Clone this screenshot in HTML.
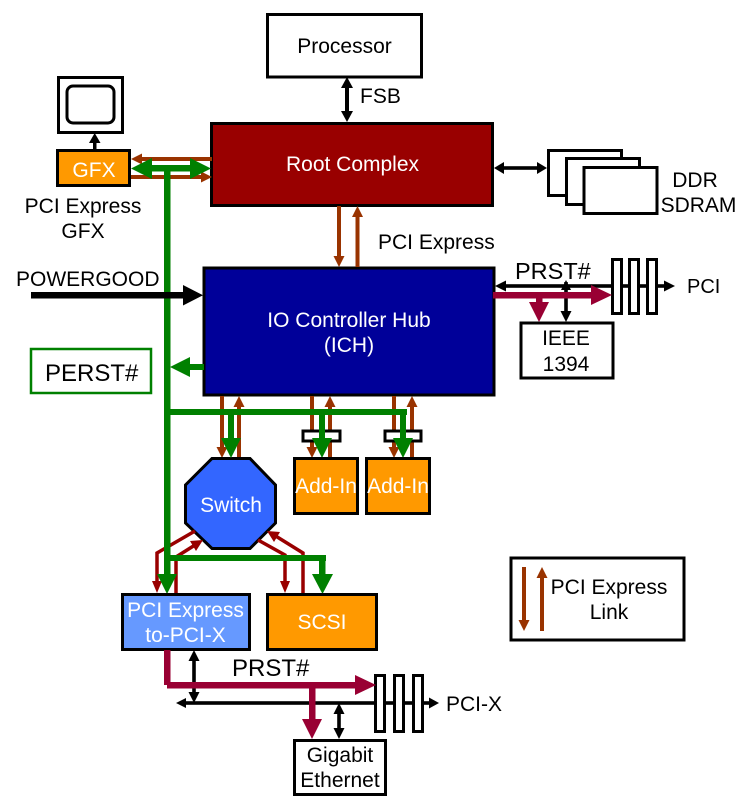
<!DOCTYPE html>
<html><head><meta charset="utf-8"><style>
html,body{margin:0;padding:0;background:#fff;width:749px;height:804px;overflow:hidden}
svg{display:block}
text{font-family:"Liberation Sans",Arial,sans-serif;font-size:21px;fill:#000}
.c{text-anchor:middle}
.w{fill:#fff}
.box{stroke:#000;stroke-width:3;fill:#fff}
</style></head><body>
<svg width="749" height="804" viewBox="0 0 749 804" xmlns="http://www.w3.org/2000/svg">
<!-- Boxes -->
<rect class="box" x="267.500" y="14.500" width="154" height="62.500"/>
<rect class="box" x="58.500" y="77.500" width="64" height="55"/>
<rect x="67" y="86" width="47" height="37" rx="6" fill="#fff" stroke="#000" stroke-width="3"/>
<rect x="211.500" y="123.500" width="281" height="82" fill="#990000" stroke="#000" stroke-width="3"/>
<rect x="204" y="268" width="290" height="127" fill="#000099" stroke="#000" stroke-width="3"/>
<rect class="box" x="548.500" y="150.500" width="73" height="45"/>
<rect class="box" x="566.500" y="158.500" width="73" height="46"/>
<rect class="box" x="584" y="167.500" width="73" height="46"/>
<rect class="box" x="521" y="323" width="92" height="55"/>
<rect x="31" y="349" width="120" height="44" fill="#fff" stroke="#008000" stroke-width="2.500"/>
<rect class="box" x="511" y="558" width="173" height="82"/>

<!-- FSB + monitor arrows -->
<g fill="#000" stroke="none">
<rect x="345" y="84" width="4" height="32"/><polygon points="347,77 341,88 353,88"/><polygon points="347,122 341,111 353,111"/>
<rect x="93" y="140" width="3.500" height="10"/><polygon points="94.700,133 89,143 100.500,143"/>
<rect x="500" y="166.200" width="42" height="3.600"/><polygon points="494,168 504,162 504,174"/><polygon points="547,168 537,162 537,174"/>
</g>

<!-- Brown links -->
<g fill="#993300" stroke="none">
<rect x="140" y="157" width="72" height="4"/><polygon points="131,159 142,153.500 142,164.500"/>
<rect x="131" y="175" width="72" height="4"/><polygon points="212,177 201,171.500 201,182.500"/>
<rect x="337" y="206" width="4" height="52"/><polygon points="339,267 333.500,256 344.500,256"/>
<rect x="355.500" y="215" width="4" height="52"/><polygon points="357.500,206 352,217 363,217"/>
<rect x="220" y="396" width="4" height="52"/><polygon points="222,458 216.500,447 227.500,447"/>
<rect x="237" y="406" width="4" height="52"/><polygon points="239,396 233.500,407 244.500,407"/>
<rect x="310" y="396" width="4" height="52"/><polygon points="312,458 306.500,447 317.500,447"/>
<rect x="328" y="406" width="4" height="52"/><polygon points="330,396 324.500,407 335.500,407"/>
<rect x="392" y="396" width="4" height="52"/><polygon points="394,458 388.500,447 399.500,447"/>
<rect x="410" y="406" width="4" height="52"/><polygon points="412,396 406.500,407 417.500,407"/>
<rect x="522" y="567" width="4" height="54"/><polygon points="524,631 518.500,620 529.500,620"/>
<rect x="540" y="577" width="4" height="54"/><polygon points="542,567 536.500,578 547.500,578"/>
</g>

<!-- Adapter slots -->
<rect x="303" y="431" width="37" height="10" fill="#fff" stroke="#000" stroke-width="3"/>
<rect x="385" y="431" width="36" height="10" fill="#fff" stroke="#000" stroke-width="3"/>

<!-- Octagon -->
<polygon points="212,458.500 250,458.500 275.500,485 275.500,523 250,548.500 212,548.500 185.500,523 185.500,485" fill="#3366ff" stroke="#000" stroke-width="3"/>

<!-- Dark red switch links -->
<g fill="none" stroke="#990000" stroke-width="3.500">
<polyline points="195,531 157,553 157,584"/>
<polyline points="176,593 176,557 195,545"/>
<polyline points="258,540 285,555 285,584"/>
<polyline points="303,593 303,553 274,535"/>
</g>
<g fill="#990000">
<polygon points="157,593 152,581 162,581"/>
<polygon points="285,593 280,581 290,581"/>
<polygon points="203,540 190,541 196,551"/>
<polygon points="267,531 280,532 274,542"/>
</g>

<!-- Green -->
<g fill="#008000" stroke="none">
<rect x="164" y="168" width="6.500" height="408"/>
<rect x="150" y="165" width="42" height="6.500"/>
<polygon points="131,168.500 152,158 152,179"/>
<polygon points="211,168.500 190,158 190,179"/>
<rect x="167" y="409" width="240" height="6"/>
<rect x="228" y="412" width="6" height="28"/><polygon points="231,458 221,438 241,438"/>
<rect x="319" y="412" width="6" height="28"/><polygon points="322,458 312,438 332,438"/>
<rect x="400" y="412" width="6" height="28"/><polygon points="403,458 393,438 413,438"/>
<rect x="167" y="555" width="159" height="6"/>
<rect x="319" y="558" width="6.500" height="18"/><polygon points="322.500,594 312,574 333,574"/>
<polygon points="167,594 157,574 177,574"/>
<rect x="188" y="364" width="16" height="6"/><polygon points="170,367 190,357 190,377"/>
</g>

<!-- Lower boxes -->
<rect x="122.500" y="594.500" width="127" height="55" fill="#6699ff" stroke="#000" stroke-width="3"/>
<rect x="267.500" y="594.500" width="109" height="55" fill="#ff9900" stroke="#000" stroke-width="3"/>
<rect x="294.500" y="458.500" width="63" height="55" fill="#ff9900" stroke="#000" stroke-width="3" />
<rect x="366.500" y="458.500" width="63" height="55" fill="#ff9900" stroke="#000" stroke-width="3"/>
<rect class="box" x="294.500" y="740.500" width="91" height="54"/>
<rect x="57.500" y="150.500" width="72" height="35" fill="#ff9900" stroke="#000" stroke-width="3"/>

<!-- POWERGOOD -->
<g fill="#000">
<rect x="31" y="292" width="154" height="6.500"/><polygon points="203,295.200 183,285 183,305.500"/>
</g>

<!-- PCI bus -->
<g fill="#000">
<rect x="503" y="284.200" width="108" height="3.600"/><polygon points="495,286 506,280.500 506,291.500"/>
<rect x="622" y="284.200" width="6" height="3.600"/><rect x="639" y="284.200" width="7" height="3.600"/>
<rect x="658" y="284.200" width="8" height="3.600"/><polygon points="675,286 664,280.500 664,291.500"/>
<rect x="564.200" y="282" width="3.600" height="32"/><polygon points="566,322 560.500,311 571.500,311"/><polygon points="566,280 561,290 571,290"/>
</g>
<g fill="#fff" stroke="#000" stroke-width="3">
<rect x="612.500" y="259.500" width="9" height="54"/>
<rect x="629.500" y="259.500" width="9" height="54"/>
<rect x="647.500" y="259.500" width="9" height="54"/>
</g>
<g fill="#990033">
<rect x="493" y="292" width="100" height="6.500"/><polygon points="612,295 591,285 591,305"/>
<rect x="536" y="298" width="6.500" height="6"/><polygon points="539,322 529,302 549,302"/>
</g>

<!-- PCI-X bus -->
<g fill="#000">
<rect x="185" y="701.200" width="190" height="3.600"/><polygon points="176,703 186,698 186,708"/>
<rect x="386" y="701.200" width="7" height="3.600"/><rect x="405" y="701.200" width="7" height="3.600"/>
<rect x="424" y="701.200" width="6" height="3.600"/><polygon points="439,703 429,697.500 429,708.500"/>
<rect x="192.200" y="657" width="3.600" height="39"/><polygon points="194,650 188.500,661 199.500,661"/><polygon points="194,703 188.500,692 199.500,692"/>
<rect x="337.200" y="710" width="3.600" height="22"/><polygon points="339,703 333.500,714 344.500,714"/><polygon points="339,739 333.500,728 344.500,728"/>
</g>
<g fill="#fff" stroke="#000" stroke-width="3">
<rect x="375.500" y="675.500" width="9" height="56"/>
<rect x="394.500" y="675.500" width="9" height="56"/>
<rect x="413.500" y="675.500" width="9" height="56"/>
</g>
<g fill="#990033">
<rect x="164" y="650" width="6.500" height="35"/>
<rect x="167" y="682" width="190" height="6.500"/><polygon points="376,685 355,675 355,695"/>
<rect x="309" y="685" width="6.500" height="36"/><polygon points="312,739 302,719 322,719"/>
</g>

<!-- Labels -->
<text class="c" x="344.500" y="53">Processor</text>
<text x="360" y="103">FSB</text>
<text class="c w" x="94" y="177">GFX</text>
<text class="c" x="83" y="213">PCI Express</text>
<text class="c" x="83" y="238">GFX</text>
<text class="c w" x="352.500" y="171">Root Complex</text>
<text class="c" x="695" y="187">DDR</text>
<text class="c" x="698.500" y="212">SDRAM</text>
<text x="378" y="249">PCI Express</text>
<text x="16" y="286">POWERGOOD</text>
<text x="515" y="279" style="font-size:23.500px">PRST#</text>
<text x="687" y="293" style="font-size:20px">PCI</text>
<text class="c" x="566" y="345">IEEE</text>
<text class="c" x="566" y="371">1394</text>
<text x="45" y="381" style="font-size:24px">PERST#</text>
<text class="c w" x="349" y="327">IO Controller Hub</text>
<text class="c w" x="349" y="352">(ICH)</text>
<text class="c w" x="231" y="512">Switch</text>
<text class="c w" x="326" y="493">Add-In</text>
<text class="c w" x="398" y="493">Add-In</text>
<text class="c w" x="185.500" y="617">PCI Express</text>
<text class="c w" x="185.500" y="642">to-PCI-X</text>
<text class="c w" x="322" y="629">SCSI</text>
<text x="232" y="676" style="font-size:24px">PRST#</text>
<text x="446" y="711">PCI-X</text>
<text class="c" x="340" y="762">Gigabit</text>
<text class="c" x="340" y="787">Ethernet</text>
<text class="c" x="609" y="594">PCI Express</text>
<text class="c" x="609" y="619">Link</text>
</svg>
</body></html>
